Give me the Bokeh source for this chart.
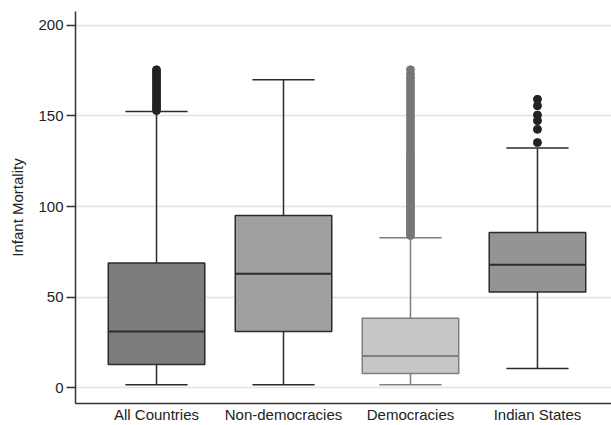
from bokeh.plotting import figure
from bokeh.models import FixedTicker, Range1d
from bokeh.embed import file_html
from bokeh.resources import INLINE

categories = ["All Countries", "Non-democracies", "Democracies", "Indian States"]
lower_whisker = [1.5, 1.5, 1.5, 10.5]
q1 = [12.8, 31.0, 7.8, 52.8]
median = [31.0, 62.8, 17.5, 67.8]
q3 = [68.8, 95.0, 38.3, 85.6]
upper_whisker = [152.5, 170.0, 82.8, 132.3]

outliers_all = [153, 154.5, 156, 157.5, 159, 160.5, 162, 163.5, 165, 166.5, 168,
                169.5, 171, 172.5, 174, 175.5]
outliers_dem = [84, 85.5, 87, 88.5, 90, 91.5, 93, 94.5, 96, 97.5, 99, 100.5, 102,
                103.5, 105, 106.5, 108, 109.5, 111, 112.5, 114, 115.5, 117, 118.5,
                120, 121.5, 123, 124.5, 126, 127.5, 129, 131, 133, 135, 137, 139,
                141, 143, 145, 147, 149, 151, 153, 155, 157, 159, 161, 163, 165,
                167, 169, 171, 173, 175.5]
outliers_ind = [135.3, 142.6, 147.4, 150.5, 155.6, 159.2]

fills = ["#7b7c7e", "#a0a0a3", "#c6c6c8", "#949497"]
lines = ["#2b2b2b", "#2b2b2b", "#7f7f81", "#2b2b2b"]
dot_colors = ["#222222", "#222222", "#77777a", "#222222"]

xs = list(range(len(categories)))
box_w = 0.76
cap_w = 0.49

p = figure(width=611, height=425, output_backend="svg", toolbar_location=None,
           x_range=Range1d(-0.638, 3.583), y_range=Range1d(-8.8, 207.7),
           min_border_left=75, min_border_top=11, min_border_right=0,
           min_border_bottom=0)
p.outline_line_color = None
p.background_fill_color = "white"

p.xgrid.grid_line_color = None
p.ygrid.grid_line_color = "#e2e2e2"
p.ygrid.grid_line_width = 1.5
p.yaxis.ticker = FixedTicker(ticks=[0, 50, 100, 150, 200])
p.xaxis.ticker = FixedTicker(ticks=xs)
p.xaxis.major_label_overrides = {i: c for i, c in enumerate(categories)}

for ax in (p.xaxis[0], p.yaxis[0]):
    ax.axis_line_color = "#333333"
    ax.axis_line_width = 1.5
    ax.major_label_text_font = "Liberation Sans"
    ax.major_label_text_font_size = "15px"
    ax.major_label_text_color = "#222222"
    ax.minor_tick_line_color = None
p.xaxis.major_tick_line_color = None
p.xaxis.major_tick_out = 0
p.xaxis.major_tick_in = 0
p.xaxis.major_label_standoff = 2
p.yaxis.major_tick_line_color = "#333333"
p.yaxis.major_tick_line_width = 1.5
p.yaxis.major_tick_out = 9
p.yaxis.major_tick_in = 0
p.yaxis.major_label_standoff = 3
p.yaxis.axis_label = "Infant Mortality"
p.yaxis.axis_label_text_font = "Liberation Sans"
p.yaxis.axis_label_text_font_style = "normal"
p.yaxis.axis_label_text_font_size = "15px"
p.yaxis.axis_label_text_color = "#222222"
p.yaxis.axis_label_standoff = 9

for i in xs:
    lc = lines[i]
    p.segment(x0=[i, i], y0=[lower_whisker[i], q3[i]], x1=[i, i],
              y1=[q1[i], upper_whisker[i]], line_color=lc, line_width=1.5)
    p.segment(x0=[i - cap_w / 2] * 2, y0=[lower_whisker[i], upper_whisker[i]],
              x1=[i + cap_w / 2] * 2, y1=[lower_whisker[i], upper_whisker[i]],
              line_color=lc, line_width=1.5)
    p.vbar(x=[i], width=box_w, bottom=[q1[i]], top=[q3[i]], fill_color=fills[i],
           line_color=lc, line_width=1.5)
    p.segment(x0=[i - box_w / 2], y0=[median[i]], x1=[i + box_w / 2], y1=[median[i]],
              line_color=lc, line_width=2)

for i, outs in [(0, outliers_all), (2, outliers_dem), (3, outliers_ind)]:
    p.scatter(x=[i] * len(outs), y=outs, size=8, fill_color=dot_colors[i],
              line_color=dot_colors[i])

open("out.html", "w").write(file_html(p, INLINE))
